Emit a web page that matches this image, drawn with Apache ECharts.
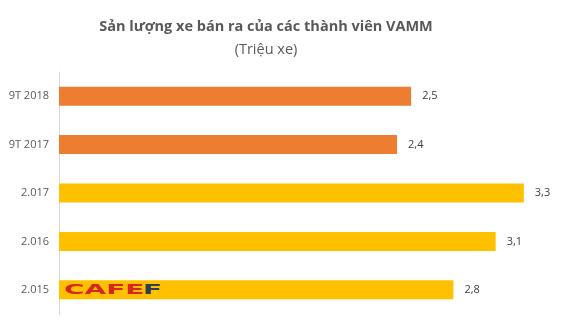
<!DOCTYPE html>
<html>
<head>
<meta charset="utf-8">
<script src="https://cdn.jsdelivr.net/npm/echarts@6/dist/echarts.min.js"></script>
<style>
  html, body { margin: 0; padding: 0; background: #fff; }
  #chart { width: 568px; height: 328px; }
</style>
</head>
<body>
<div id="chart"></div>
<script>
// Vehicle sales of VAMM members (million vehicles), listed top to bottom
const categories = ['9T 2018', '9T 2017', '2.017', '2.016', '2.015'];
const sales = [2.5, 2.4, 3.3, 3.1, 2.8];
const barColors = ['#ED7D31', '#ED7D31', '#FFC000', '#FFC000', '#FFC000'];

const chart = echarts.init(document.getElementById('chart'), null, { renderer: 'canvas' });

chart.setOption({
  animation: false,
  backgroundColor: '#ffffff',
  title: [
    {
      text: 'Sản lượng xe bán ra của các thành viên VAMM',
      left: 261, top: 14, textAlign: 'center',
      textStyle: { fontFamily: 'Open Sans', fontWeight: 'bold', fontSize: 14.5, color: '#595959' }
    },
    {
      text: '(Triệu xe)',
      left: 261, top: 37, textAlign: 'center',
      textStyle: { fontFamily: 'Open Sans', fontWeight: 'normal', fontSize: 14.5, color: '#595959' }
    }
  ],
  grid: { left: 59, right: 16, top: 72, bottom: 14, containLabel: false },
  xAxis: {
    type: 'value', min: 0, max: 3.5,
    show: false
  },
  yAxis: {
    type: 'category',
    data: categories,
    inverse: true,
    axisLine: { show: true, lineStyle: { color: '#D9D9D9', width: 1 } },
    axisTick: { show: false },
    axisLabel: { color: '#595959', fontFamily: 'Open Sans', fontSize: 11, margin: 10 }
  },
  series: [{
    type: 'bar',
    barWidth: 19,
    data: sales.map((v, i) => ({ value: v, itemStyle: { color: barColors[i] } })),
    label: {
      show: true, position: 'right', distance: 11,
      color: '#404040', fontFamily: 'Open Sans', fontSize: 11,
      formatter: p => String(p.value).replace('.', ',')
    }
  }],
  // Site watermark, stretched wide
  graphic: [{
    type: 'text',
    z: 100,
    x: 64, y: 283, scaleX: 2,
    style: {
      text: 'CAFE',
      fontFamily: 'DejaVu Sans', fontWeight: 'bold', fontSize: 14,
      fill: '#D7261E', verticalAlign: 'top'
    }
  }, {
    type: 'text',
    z: 100,
    x: 143, y: 283, scaleX: 2,
    style: {
      text: 'F',
      fontFamily: 'DejaVu Sans', fontWeight: 'bold', fontSize: 14,
      fill: '#2F3F4F', verticalAlign: 'top'
    }
  }]
});
</script>
</body>
</html>
